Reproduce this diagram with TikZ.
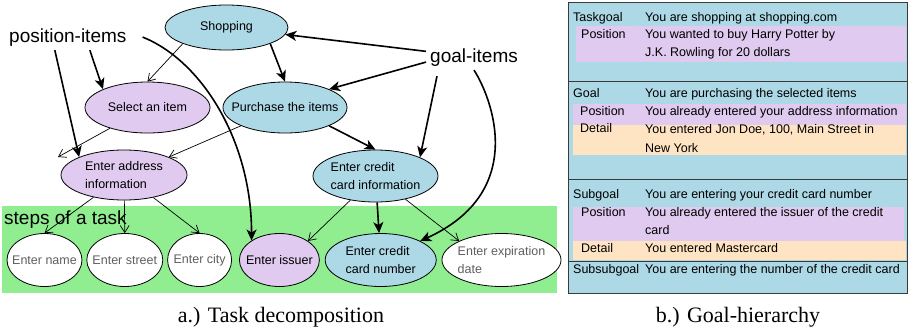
\documentclass[tikz,border=0pt]{standalone}
\usepackage{fontspec}
\setmainfont{Liberation Sans}
\newfontfamily\capfont{Liberation Serif}
\usetikzlibrary{positioning,shapes.geometric,arrows.meta}
\definecolor{goalblue}{HTML}{ADD8E6}
\definecolor{poslilac}{HTML}{E0CAF0}
\definecolor{detpeach}{HTML}{FFE4C4}
\definecolor{stepgreen}{HTML}{90EE90}
\definecolor{leafgrey}{HTML}{5F5F5F}
\definecolor{rulegrey}{HTML}{3A3A3A}
\tikzset{
  task/.style    ={ellipse, draw=black, line width=0.8pt, inner sep=-30pt,
                   align=left, font=\fontsize{12.5}{18}\selectfont},
  goalnode/.style={task, fill=goalblue},
  posnode/.style ={task, fill=poslilac},
  leaf/.style    ={task, fill=white, text=leafgrey, minimum height=53pt},
  link/.style    ={-{Straight Barb[length=7pt,width=9pt]}, line width=0.7pt},
  pointer/.style ={-{Stealth[length=11pt,width=10pt,inset=3pt]}, line width=1.6pt},
  itemtag/.style ={font=\fontsize{19}{22}\selectfont, inner sep=4pt, anchor=base west},
  rowtxt/.style  ={anchor=base west, inner sep=0pt, font=\fontsize{12.5}{18}\selectfont},
  captxt/.style  ={anchor=base, inner sep=0pt, font=\capfont\fontsize{22}{26}\selectfont}
}
\begin{document}
\begin{tikzpicture}[x=1pt,y=-1pt]
  \useasboundingbox (0,0) rectangle (909,330);

  % a.) task tree
  \fill[stepgreen] (2,206) rectangle (557,293);
  \node[itemtag, inner sep=0pt] (steps) at (4,224) {steps of a task};

  \node[goalnode, minimum width=123pt, minimum height=45pt] (shop) at (226.5,27.5) {Shopping};
  \node[posnode, minimum width=125pt, minimum height=51pt] (select) at (147.5,107.5) {Select an item};
  \node[goalnode, minimum width=124pt, minimum height=51pt] (purch) at (285,107.5) {Purchase the items};
  \node[posnode, minimum width=126pt, minimum height=50pt] (addr) at (124,175) {Enter address\\information};
  \node[goalnode, minimum width=125pt, minimum height=52pt] (ccinfo) at (375.5,176) {Enter credit\\card information};

  \node[leaf, minimum width=75pt] (name) at (44.5,260) {Enter name};
  \node[leaf, minimum width=76pt, right=4pt of name] (street) {Enter street};
  \node[leaf, minimum width=64pt, right=4pt of street] (city) {Enter city};
  \node[leaf, minimum width=80pt, right=7pt of city, fill=poslilac, text=black] (issuer) {Enter issuer};
  \node[leaf, minimum width=111pt, right=5pt of issuer, fill=goalblue, text=black] (ccnum) {Enter credit\\card number};
  \node[leaf, minimum width=119pt, right=5pt of ccnum] (exp) {Enter expiration\\date};

  \coordinate (loose) at (58,157);
  \draw[link] (shop.south west) -- (select.north);
  \draw[pointer] (shop.south east) -- (purch.north);
  \draw[link] (select) -- (loose);
  \draw[link] (purch.south west) -- (addr.north east);
  \draw[pointer] (purch.south east) -- (ccinfo.north);
  \draw[link] (addr) -- (name.north);
  \draw[link] (addr) -- (street.north);
  \draw[link] (addr) -- (city.north);
  \draw[link] (ccinfo) -- (issuer.north east);
  \draw[pointer] (ccinfo) -- (ccnum);
  \draw[link] (ccinfo) -- (exp.north west);

  % item labels
  \node[itemtag] (pos) at (5,42) {position-items};
  \node[itemtag] (goal) at (426,62) {goal-items};
  \draw[pointer] ([xshift=22pt]pos.south) -- (select.north west);
  \draw[pointer] ([xshift=-13pt]pos.south) -- (addr.north west);
  \draw[pointer] ([xshift=12pt]pos.east) .. controls +(58,23) and +(0,-101) .. (issuer.145);
  \draw[pointer] (goal) -- (shop);
  \draw[pointer] ([yshift=-5pt]goal.west) -- (purch.north east);
  \draw[pointer] ([shift={(11,6)}]goal.south west) -- (ccinfo.north east);
  \draw[pointer] (goal.south) .. controls +(18,28) and +(108,-49) .. (ccnum.north east);

  \node[captxt] (capa) at (281,322) {a.) Task decomposition};

  % b.) goal hierarchy
  \draw[rulegrey, fill=goalblue, line width=1pt] (568,2) rectangle (907,293);
  \fill[poslilac] (576,26) rectangle (906,62);
  \fill[poslilac] (573,104) rectangle (906,125);
  \fill[detpeach] (573,125) rectangle (906,155);
  \fill[poslilac] (573,207) rectangle (904,241);
  \fill[detpeach] (573,241) rectangle (906,260);
  \draw[rulegrey, line width=1pt] (568,81) -- (907,81);
  \draw[rulegrey, line width=1pt] (568,179) -- (907,179);
  \draw[rulegrey, line width=1pt] (568,261) -- (907,261);

  \node[rowtxt] (k1) at (573,21) {Taskgoal};
  \node[rowtxt] (v1) at (645,21) {You are shopping at shopping.com};
  \node[rowtxt] (k1p) at (581,38) {Position};
  \node[rowtxt] (v1p) at (645,38) {You wanted to buy Harry Potter by};
  \node[rowtxt] (v1q) at (645,56) {J.K. Rowling for 20 dollars};

  \node[rowtxt] (k2) at (573,97) {Goal};
  \node[rowtxt] (v2) at (645,97) {You are purchasing the selected items};
  \node[rowtxt] (k2p) at (580,115) {Position};
  \node[rowtxt] (v2p) at (645,115) {You already entered your address information};
  \node[rowtxt] (k2d) at (580,132) {Detail};
  \node[rowtxt] (v2d) at (645,133) {You entered Jon Doe, 100, Main Street in};
  \node[rowtxt] (v2e) at (645,152) {New York};

  \node[rowtxt] (k3) at (573,198) {Subgoal};
  \node[rowtxt] (v3) at (645,198) {You are entering your credit card number};
  \node[rowtxt] (k3p) at (581,216) {Position};
  \node[rowtxt] (v3p) at (645,216) {You already entered the issuer of the credit};
  \node[rowtxt] (v3q) at (645,234) {card};
  \node[rowtxt] (k3d) at (581,252) {Detail};
  \node[rowtxt] (v3d) at (645,252) {You entered Mastercard};

  \node[rowtxt] (k4) at (573,273) {Subsubgoal};
  \node[rowtxt] (v4) at (645,273) {You are entering the number of the credit card};

  \node[captxt] (capb) at (738,322) {b.) Goal-hierarchy};
\end{tikzpicture}
\end{document}
